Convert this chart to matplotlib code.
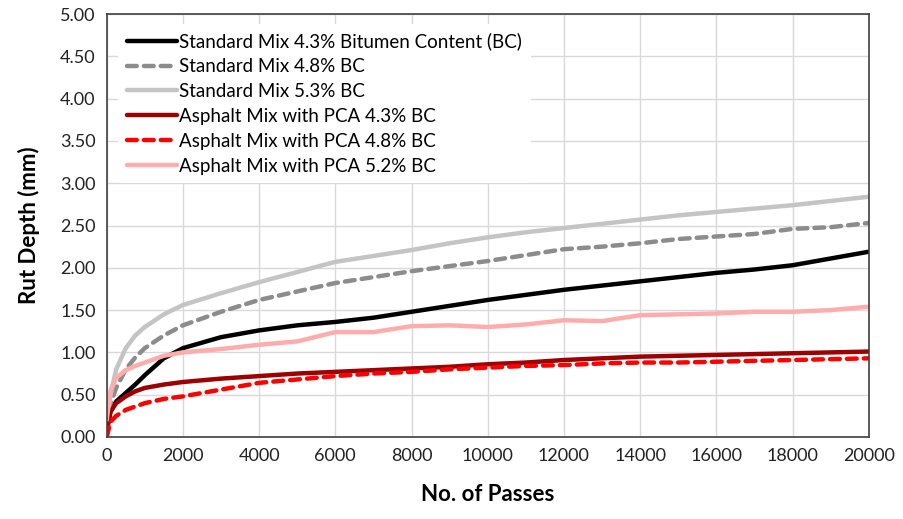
'''
Rut depth vs number of passes
'''
import matplotlib
matplotlib.use('Agg')
import matplotlib.pyplot as plt

passes = [0, 100, 250, 500, 750, 1000, 1500, 2000, 3000, 4000, 5000, 6000, 7000,
          8000, 9000, 10000, 11000, 12000, 13000, 14000, 15000, 16000, 17000,
          18000, 19000, 20000]

std_43 = [0.10, 0.30, 0.42, 0.52, 0.62, 0.73, 0.93, 1.05, 1.18, 1.26, 1.32, 1.36, 1.41,
          1.48, 1.55, 1.62, 1.68, 1.74, 1.79, 1.84, 1.89, 1.94, 1.98, 2.03, 2.11, 2.19]
std_48 = [0.10, 0.40, 0.58, 0.80, 0.94, 1.05, 1.20, 1.32, 1.48, 1.62, 1.72, 1.82, 1.89,
          1.96, 2.02, 2.08, 2.15, 2.22, 2.25, 2.29, 2.34, 2.37, 2.40, 2.46, 2.48, 2.53]
std_53 = [0.15, 0.50, 0.80, 1.05, 1.20, 1.30, 1.45, 1.56, 1.70, 1.83, 1.95, 2.07, 2.14,
          2.21, 2.29, 2.36, 2.42, 2.47, 2.52, 2.57, 2.62, 2.66, 2.70, 2.74, 2.79, 2.84]
pca_43 = [0.05, 0.30, 0.40, 0.48, 0.54, 0.58, 0.62, 0.65, 0.69, 0.72, 0.75, 0.77, 0.79,
          0.81, 0.83, 0.86, 0.88, 0.91, 0.93, 0.95, 0.96, 0.97, 0.98, 0.99, 1.00, 1.01]
pca_48 = [0.00, 0.18, 0.25, 0.32, 0.36, 0.40, 0.45, 0.48, 0.56, 0.64, 0.68, 0.72, 0.75,
          0.77, 0.80, 0.82, 0.84, 0.85, 0.87, 0.88, 0.88, 0.89, 0.90, 0.91, 0.92, 0.93]
pca_52 = [0.20, 0.55, 0.70, 0.79, 0.84, 0.88, 0.96, 1.00, 1.04, 1.09, 1.13, 1.24, 1.24,
          1.31, 1.32, 1.30, 1.33, 1.38, 1.37, 1.44, 1.45, 1.46, 1.48, 1.48, 1.50, 1.54]

series = [
    ('Standard Mix 4.3% Bitumen Content (BC)', std_43, '#000000', '-'),
    ('Standard Mix 4.8% BC', std_48, '#8c8c8c', (0, (2.2, 1.6))),
    ('Standard Mix 5.3% BC', std_53, '#c4c4c4', '-'),
    ('Asphalt Mix with PCA 4.3% BC', pca_43, '#9c0000', '-'),
    ('Asphalt Mix with PCA 4.8% BC', pca_48, '#ff0000', (0, (2.2, 1.6))),
    ('Asphalt Mix with PCA 5.2% BC', pca_52, '#ffacac', '-'),
]

plt.rcParams['font.family'] = ['Lato', 'DejaVu Sans']

fig = plt.figure(figsize=(9.04, 5.19), dpi=100)
ax = fig.add_axes([0.118, 0.158, 0.843, 0.815])

for label, values, color, style in series:
    ax.plot(passes, values, color=color, linestyle=style, linewidth=3.2,
            dash_capstyle='round', solid_capstyle='round', label=label)

ax.set_xlim(0, 20000)
ax.set_ylim(0, 5)
ax.set_xticks(range(0, 20001, 2000))
ax.set_yticks([i * 0.5 for i in range(11)])
ax.set_yticklabels([f'{i * 0.5:.2f}' for i in range(11)])
ax.grid(True, color='#d9d9d9', linewidth=1)
ax.set_axisbelow(True)
ax.tick_params(length=0, labelsize=13, colors='#222222', pad=8)
for spine in ax.spines.values():
    spine.set_color('#404040')
    spine.set_linewidth(1.2)

ax.set_xlabel('No. of Passes', fontsize=16, fontweight='bold', labelpad=14)
ax.set_ylabel('Rut Depth (mm)', fontsize=16, fontweight='bold', labelpad=14)

leg = ax.legend(loc='upper left', bbox_to_anchor=(0.008, 0.99), frameon=True,
                fontsize=13.5, handlelength=2.7, handletextpad=0.1,
                labelspacing=0.42, borderpad=0.45, borderaxespad=0.3)
leg.get_frame().set_edgecolor('none')
leg.get_frame().set_facecolor('white')
leg.get_frame().set_alpha(1)

fig.savefig('out.png', dpi=100)
